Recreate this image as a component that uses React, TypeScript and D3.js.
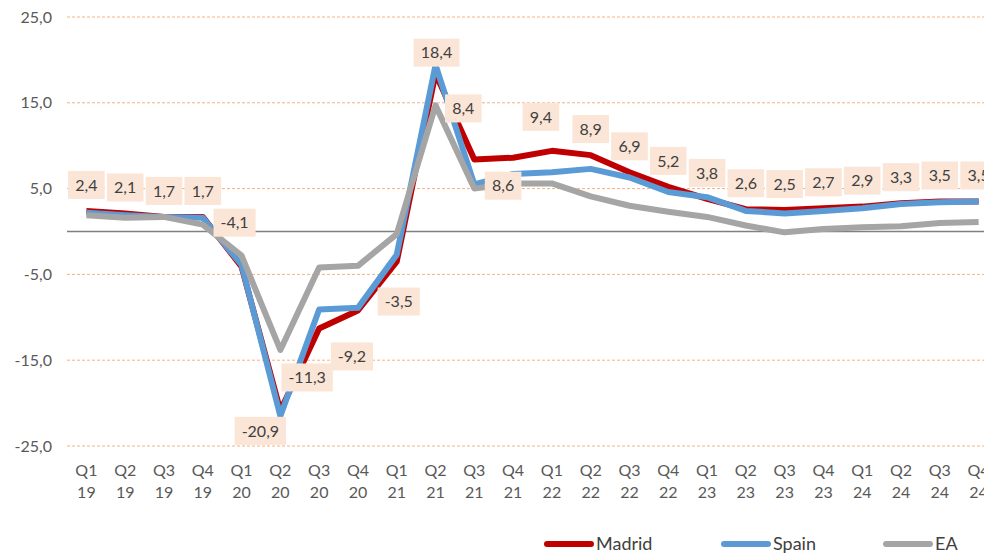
import React from 'react'
import * as d3 from 'd3'

// quarters Q1 2019 .. Q4 2024
const quarters = ['Q1', 'Q2', 'Q3', 'Q4', 'Q1', 'Q2', 'Q3', 'Q4', 'Q1', 'Q2', 'Q3', 'Q4', 'Q1', 'Q2', 'Q3', 'Q4', 'Q1', 'Q2', 'Q3', 'Q4', 'Q1', 'Q2', 'Q3', 'Q4']
const years = ['19', '19', '19', '19', '20', '20', '20', '20', '21', '21', '21', '21', '22', '22', '22', '22', '23', '23', '23', '23', '24', '24', '24', '24']

const madrid = [2.4, 2.1, 1.7, 1.7, -4.1, -20.9, -11.3, -9.2, -3.5, 18.4, 8.4, 8.6, 9.4, 8.9, 6.9, 5.2, 3.8, 2.6, 2.5, 2.7, 2.9, 3.3, 3.5, 3.5]
const spain = [2.2, 1.9, 1.7, 1.6, -3.9, -21.5, -9.1, -8.9, -2.7, 19.4, 5.5, 6.7, 6.9, 7.3, 6.3, 4.6, 4.0, 2.4, 2.1, 2.4, 2.7, 3.2, 3.4, 3.5]
const ea = [1.9, 1.6, 1.7, 0.8, -2.8, -13.8, -4.2, -4.0, -0.3, 14.7, 5.0, 5.6, 5.6, 4.1, 3.0, 2.3, 1.7, 0.7, -0.1, 0.3, 0.5, 0.6, 1.0, 1.1]

const yTicks = [25, 15, 5, -5, -15, -25]

const W = 984
const H = 554
const FONT = 'Lato, "Open Sans", sans-serif'

// hand-placed label offsets (centre relative to point), default is above
const labelNudge: Record<number, [number, number]> = {
  4: [-7, -44],
  5: [-20, 20],
  6: [-12, 49],
  7: [-6, 46],
  8: [2, 40],
  9: [1, -21],
  10: [-11, -51],
  11: [-10, 28],
  12: [-11, -34],
}

const fmt = d3.formatLocale({ decimal: ',', thousands: '.', grouping: [3], currency: ['', '€'], minus: '-' }).format('.1f')

function textWidth(s: string) {
  let w = 0
  for (const c of s) {
    if (c === ',') w += 4
    else if (c === '-') w += 5.5
    else w += 9.3
  }
  return w
}

export default function App() {
  const x = d3.scalePoint<number>().domain(d3.range(quarters.length)).range([67, 998]).padding(0.5)
  const y = d3.scaleLinear().domain([-25, 25]).range([446, 17])

  const line = d3.line<number>().x((_, i) => x(i) as number).y(d => y(d))

  const series = [
    { name: 'Madrid', values: madrid, color: '#C00000' },
    { name: 'Spain', values: spain, color: '#5B9BD5' },
    { name: 'EA', values: ea, color: '#A5A5A5' },
  ]
  const legendX = [545, 722, 884]

  return (
    <div style={{ position: 'absolute', left: 0, top: 0, width: W, height: H, overflow: 'hidden', background: '#fff' }}>
      <svg width={W} height={H} style={{ display: 'block', fontFamily: FONT }}>
        {/* grid */}
        {yTicks.map(t => (
          <g key={t}>
            <line x1={67} x2={W} y1={y(t)} y2={y(t)} stroke="#F4B183" strokeWidth={1} strokeDasharray="3 2" />
            <text x={52} y={y(t)} dy="0.35em" textAnchor="end" fontSize={16} fill="#595959">{fmt(t)}</text>
          </g>
        ))}
        <line x1={67} x2={W} y1={y(0)} y2={y(0)} stroke="#808080" strokeWidth={1.5} />

        {/* x labels */}
        {quarters.map((q, i) => (
          <text key={i} x={x(i)} textAnchor="middle" fontSize={16} fill="#595959">
            <tspan x={x(i)} y={476}>{q}</tspan>
            <tspan x={x(i)} y={498}>{years[i]}</tspan>
          </text>
        ))}

        {/* lines */}
        {series.map(s => (
          <path key={s.name} d={line(s.values) || ''} fill="none" stroke={s.color} strokeWidth={6} strokeLinejoin="round" />
        ))}

        {/* madrid labels */}
        {madrid.map((v, i) => {
          const [dx, dy] = labelNudge[i] || [0, -26]
          const cx = (x(i) as number) + dx
          const cy = y(v) + dy
          const s = fmt(v)
          const bw = textWidth(s) + 14
          return (
            <g key={i}>
              <rect x={cx - bw / 2} y={cy - 14} width={bw} height={28} fill="#FBE5D6" />
              <text x={cx} y={cy} dy="0.36em" textAnchor="middle" fontSize={16} fill="#404040">{s}</text>
            </g>
          )
        })}

        {/* legend */}
        {series.map((s, i) => (
          <g key={s.name} transform={`translate(${legendX[i]},544)`}>
            <line x1={2} x2={46} y1={0} y2={0} stroke={s.color} strokeWidth={6} strokeLinecap="round" />
            <text x={51} y={0} dy="0.35em" fontSize={18} fill="#404040">{s.name}</text>
          </g>
        ))}
      </svg>
    </div>
  )
}
